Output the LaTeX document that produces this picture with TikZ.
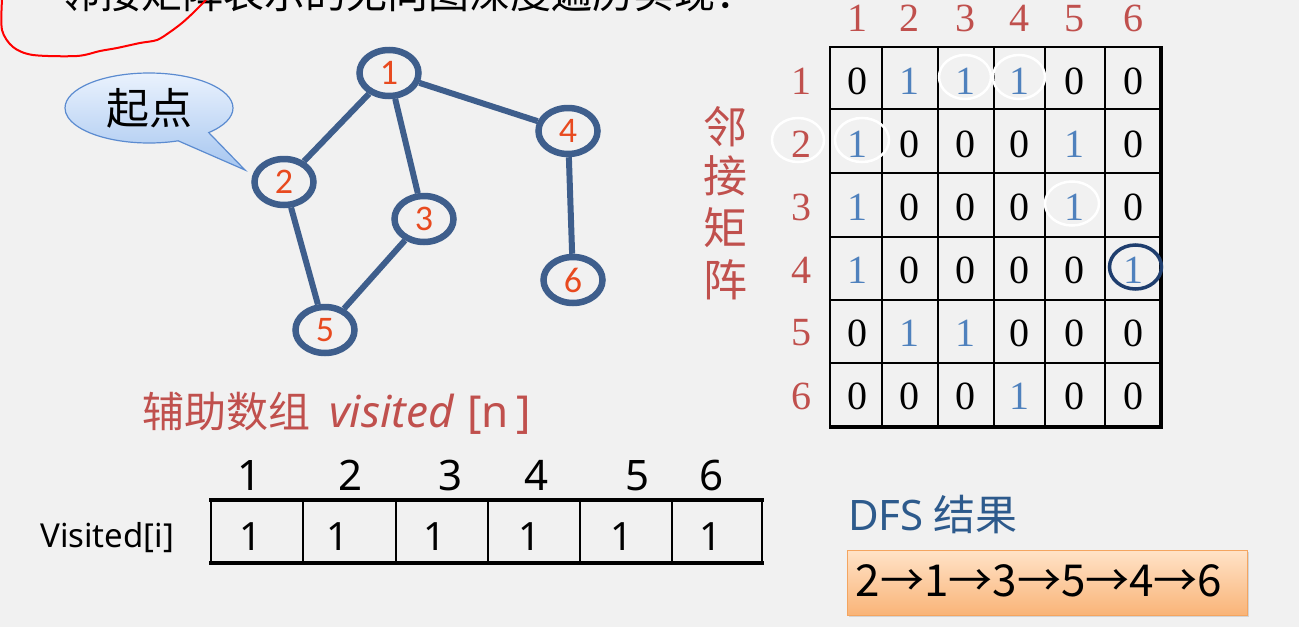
\documentclass[tikz,border=0pt]{standalone}
\usepackage{fontspec}
\setmainfont{Liberation Serif}
\newfontfamily\cjkfont{Noto Sans CJK SC}
\newfontfamily\latsans{Noto Sans}
\newfontfamily\carl{Carlito}
\usetikzlibrary{shapes.geometric,shapes.callouts,shadows}
\definecolor{bg}{HTML}{F1F1F1}
\definecolor{gblue}{HTML}{3E5E8C}
\definecolor{gred}{HTML}{E84A1F}
\definecolor{mred}{HTML}{C0504D}
\definecolor{mblue}{HTML}{4F81BD}
\definecolor{dblue}{HTML}{2D5A8C}
\definecolor{cblue}{HTML}{1F3E6E}
\definecolor{cbtop}{HTML}{EAF2FD}
\definecolor{cbbot}{HTML}{A6C6F0}
\definecolor{cbline}{HTML}{5B8BD0}
\definecolor{otop}{HTML}{FFE3C8}
\definecolor{obot}{HTML}{F9B478}
\definecolor{oline}{HTML}{F4A560}
\newcommand\setfs[1]{\fontsize{#1}{#1}\selectfont}
\newcommand\mrow[7]{%
  \foreach \xx/\v in {857/#2,909/#3,965/#4,1019/#5,1074/#6,1133/#7}{%
    \ifnum\v=1
      \node[cellnum,text=mblue] (m#1-\xx) at (\xx,#1) {1};
    \else
      \node[cellnum] (m#1-\xx) at (\xx,#1) {0};
    \fi}}
\begin{document}
\begin{tikzpicture}[x=1pt,y=-1pt,
  gnode/.style={ellipse,draw=gblue,line width=6.5pt,minimum width=59pt,minimum height=46pt,inner sep=0pt,font=\carl\setfs{36},text=gred},
  gedge/.style={draw=gblue,line width=6pt},
  mlab/.style={text=mred,font=\setfs{40},inner sep=0pt},
  cellnum/.style={text=black,font=\setfs{40},inner sep=0pt},
  vlab/.style={text=mred,font=\cjkfont\setfs{44},inner sep=0pt},
  wring/.style={draw=white,line width=2.5pt},
  arrnum/.style={anchor=base,font=\latsans\setfs{42},inner sep=0pt},
  cellone/.style={anchor=base,font=\latsans\setfs{39},inner sep=0pt}]
\useasboundingbox (0,0) rectangle (1299,627);
\fill[bg] (0,0) rectangle (1299,627);

% title (cut off at the top)
\node[anchor=base west,inner sep=0pt,font=\cjkfont\setfs{41}] (title) at (59,8) {邻接矩阵表示的无向图深度遍历实现：};

% red freehand mark
\draw[red,line width=2pt,line cap=round] plot[smooth] coordinates {(2,0) (2,30) (13,47) (33,55) (77,56) (100,51) (117,48) (140,43) (157,40) (170,32) (182,23) (193,13) (203,3) (206,0)};

% callout
\node[ellipse callout,draw=cbline,line width=1.2pt,top color=cbtop,bottom color=cbbot,
  minimum width=168pt,minimum height=70pt,inner sep=0pt,
  callout absolute pointer={(245,170)},callout pointer arc=25,
  font=\cjkfont\setfs{43}] (start) at (149,108) {起点};

% graph
\node[gnode] (n1) at (389,73) {1};
\node[gnode] (n2) at (284,182) {2};
\node[gnode] (n3) at (424,219) {3};
\node[gnode] (n4) at (568,131) {4};
\node[gnode] (n5) at (325,330) {5};
\node[gnode] (n6) at (573,280) {6};
\draw[gedge] (n1) -- (n2);
\draw[gedge] (n1) -- (n3);
\draw[gedge] (n1) -- (n4);
\draw[gedge] (n2) -- (n5);
\draw[gedge] (n3) -- (n5);
\draw[gedge] (n4) -- (n6);

% matrix labels
\foreach \xx/\t in {857/1,909/2,965/3,1019/4,1074/5,1133/6}
  \node[mlab] (c\t) at (\xx,18.5) {\t};
\foreach \yy/\t in {81/1,144/2,207/3,270/4,333/5,396/6}
  \node[mlab] (r\t) at (801,\yy) {\t};
\node[vlab] (v1) at (725,127) {邻};
\node[vlab] (v2) at (725,176) {接};
\node[vlab] (v3) at (725,228) {矩};
\node[vlab] (v4) at (725,280) {阵};

% matrix grid
\foreach \xx in {882,938,994,1045,1105}
  \draw[line width=1.5pt] (\xx,47) -- (\xx,427);
\foreach \yy in {109,173,237,300,363}
  \draw[line width=1.5pt] (830,\yy) -- (1161,\yy);
\draw[line width=2pt] (830,427) -- (830,47) -- (1161,47);
\draw[line width=3.5pt] (1161,46) -- (1161,427) -- (829,427);

% matrix values
\mrow{81}{0}{1}{1}{1}{0}{0}
\mrow{144}{1}{0}{0}{0}{1}{0}
\mrow{207}{1}{0}{0}{0}{1}{0}
\mrow{270}{1}{0}{0}{0}{0}{1}
\mrow{333}{0}{1}{1}{0}{0}{0}
\mrow{396}{0}{0}{0}{1}{0}{0}

% highlight rings
\draw[wring] (965,77) ellipse [x radius=26pt,y radius=22pt];
\draw[wring] (1019,77) ellipse [x radius=26pt,y radius=22pt];
\draw[wring] (798,140) ellipse [x radius=26pt,y radius=22pt];
\draw[wring] (862,140) ellipse [x radius=27pt,y radius=22pt];
\draw[wring] (1072,203.5) ellipse [x radius=27pt,y radius=22pt];
\draw[cblue,line width=3.5pt] (1135.5,267) ellipse [x radius=26pt,y radius=22pt];

% auxiliary array
\node[anchor=base west,inner sep=0pt,text=mred,font=\cjkfont\setfs{42}] (aux) at (142,427) {辅助数组};
\node[anchor=base west,inner sep=0pt,text=mred,font=\latsans\itshape\setfs{44}] (auxv) at (329,427) {visited};
\node[anchor=base west,inner sep=0pt,text=mred,font=\latsans\setfs{44}] (auxn) at (467,427) {[n\,]};
\foreach \xx/\t in {250/1,351/2,451/3,537/4,638/5,712/6}
  \node[arrnum] (i\t) at (\xx,490) {\t};
\node[anchor=base west,inner sep=0pt,font=\latsans\setfs{33}] (vlabel) at (40,547) {Visited[i]};
\foreach \xx in {303,396,488,580,672}
  \draw[line width=1.8pt] (\xx,500) -- (\xx,563);
\draw[line width=2.5pt] (211,498) -- (211,565);
\draw[line width=2.5pt] (762,498) -- (762,565);
\draw[line width=4pt] (209,500) -- (764,500);
\draw[line width=4pt] (209,563) -- (764,563);
\foreach \xx/\t in {251/1,338/2,435/3,530/4,622/5,711/6}
  \node[cellone] (a\t) at (\xx,550) {1};

% DFS result
\node[anchor=base west,inner sep=0pt,text=dblue,font=\cjkfont\setfs{42}] (dfslabel) at (848,530) {{\latsans DFS} 结果};
\node[draw=oline,line width=1pt,top color=otop,bottom color=obot,minimum width=400pt,minimum height=65pt,inner sep=0pt,
  drop shadow={opacity=0.25,shadow xshift=1.5pt,shadow yshift=-2pt}] (dfsbox) at (1047,582.5) {};
\node[inner sep=0pt,font=\cjkfont\setfs{44}] (dfstext) at (1039,581) {2→1→3→5→4→6};
\end{tikzpicture}
\end{document}
